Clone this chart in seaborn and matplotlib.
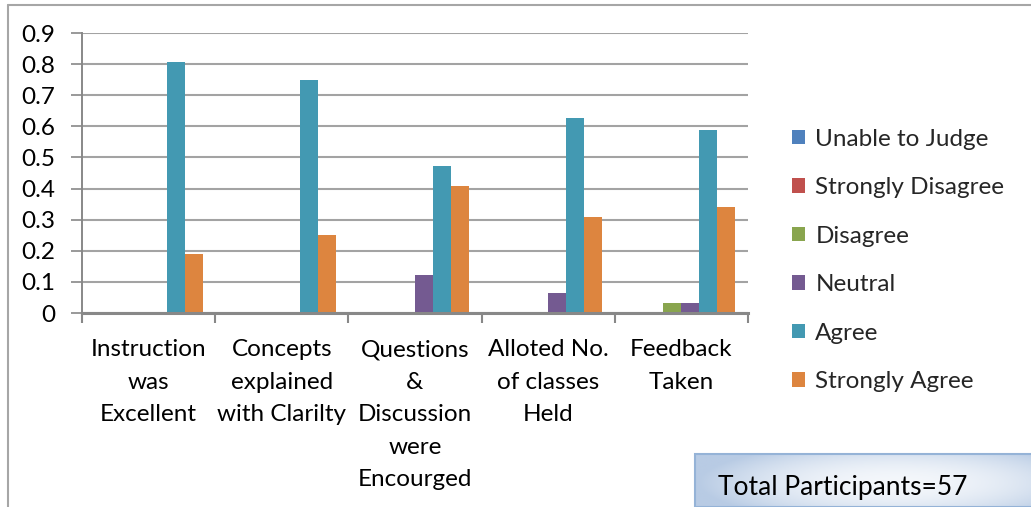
import numpy as np
import pandas as pd
import matplotlib
matplotlib.use("Agg")
import matplotlib.pyplot as plt
import seaborn as sns
from matplotlib.patches import Patch, Rectangle
from matplotlib.lines import Line2D

categories = ["Instruction\nwas\nExcellent", "Concepts\nexplained\nwith Clarilty",
              "Questions\n&\nDiscussion\nwere\nEncourged", "Alloted No.\nof classes\nHeld",
              "Feedback\nTaken"]
series = ["Unable to Judge", "Strongly Disagree", "Disagree", "Neutral", "Agree", "Strongly Agree"]
unable_to_judge = [0, 0, 0, 0, 0]
strongly_disagree = [0, 0, 0, 0, 0]
disagree = [0, 0, 0, 0, 0.033]
neutral = [0, 0, 0.123, 0.065, 0.033]
agree = [0.806, 0.748, 0.472, 0.627, 0.587]
strongly_agree = [0.19, 0.252, 0.407, 0.31, 0.342]
yticks = [0, 0.1, 0.2, 0.3, 0.4, 0.5, 0.6, 0.7, 0.8, 0.9]
ytick_labels = ["0", "0.1", "0.2", "0.3", "0.4", "0.5", "0.6", "0.7", "0.8", "0.9"]
note = "Total Participants=57"

colors = ["#4F81BD", "#C0504D", "#89A54E", "#745A91", "#4399B2", "#DD853F"]

rows = []
for s, vals in zip(series, [unable_to_judge, strongly_disagree, disagree, neutral, agree, strongly_agree]):
    for c, v in zip(categories, vals):
        rows.append({"category": c, "series": s, "value": v})
df = pd.DataFrame(rows)

sns.set_theme(style="white")
plt.rcParams["font.family"] = ["Lato", "DejaVu Sans"]

FS = 17.5
W, H = 1031, 507
fig = plt.figure(figsize=(W / 100, H / 100), dpi=100)
ax = fig.add_axes([82 / W, 1 - 313 / H, (748 - 82) / W, (313 - 33) / H])

sns.barplot(data=df, x="category", y="value", hue="series", order=categories,
            hue_order=series, palette=colors, width=0.81, linewidth=0,
            saturation=1, ax=ax, legend=False)

ax.set_xlim(-0.5, 4.5)
ax.set_ylim(0, 0.9)
ax.set_yticks(yticks)
ax.set_yticklabels(ytick_labels, fontsize=FS, color="#000000")
ax.yaxis.grid(True, color="#A3A3A3", linewidth=1.5)
ax.set_axisbelow(True)
ax.set_xlabel("")
ax.set_ylabel("")
ax.set_xticks(range(len(categories)))
ax.set_xticklabels(categories, fontsize=FS, linespacing=1.67, va="top", color="#000000")
ax.set_xticks(np.arange(-0.5, 5, 1), minor=True)
ax.tick_params(axis="x", which="major", length=0, pad=19)
ax.tick_params(axis="x", which="minor", length=7, width=1.5, color="#888888", direction="out", bottom=True)
ax.tick_params(axis="y", which="major", length=8, width=1.2, color="#888888", direction="out", left=True, pad=11)
for sp in ["top", "right"]:
    ax.spines[sp].set_visible(False)
ax.spines["left"].set_color("#888888")
ax.spines["left"].set_linewidth(1.4)
ax.spines["bottom"].set_color("#888888")
ax.spines["bottom"].set_linewidth(2.2)

handles = [Patch(facecolor=c, edgecolor="none") for c in colors]
fig.legend(handles, series, loc="center left", bbox_to_anchor=(792 / W, 1 - 260.5 / H),
           frameon=False, fontsize=FS, handlelength=0.54, handleheight=0.54,
           handletextpad=0.42, labelspacing=1.13, borderpad=0, borderaxespad=0)

# chart border
fig.add_artist(Line2D([8 / W, 8 / W], [0, 1 - 5 / H], color="#A6A6A6", lw=1.5))
fig.add_artist(Line2D([8 / W, 1], [1 - 5 / H, 1 - 5 / H], color="#A6A6A6", lw=1.5))

# note box with gradient
bx = fig.add_axes([695 / W, 0, (W - 695) / W, (H - 453) / H])
gx = np.linspace(0, 1, 200)
gy = np.linspace(0, 1, 40)
XX, YY = np.meshgrid(gx, gy)
t = np.clip(1 - ((XX - 0.6) ** 2 / 0.35 + (YY - 0.45) ** 2 / 0.6), 0, 1)
c0 = np.array([0xB8, 0xCB, 0xE4]) / 255
c1 = np.array([0xF4, 0xF7, 0xFB]) / 255
img = c0[None, None, :] * (1 - t[..., None]) + c1[None, None, :] * t[..., None]
bx.imshow(img, aspect="auto", extent=[0, 1, 0, 1], origin="lower")
bx.set_xlim(0, 1)
bx.set_ylim(0, 1)
bx.axis("off")
bx.add_patch(Rectangle((0, 0), 1.2, 0.985, fill=False, edgecolor="#95B3D7", lw=1.5, clip_on=False))
bx.text(23 / (W - 695), 0.36, note, fontsize=19, color="#000000", va="center", ha="left")

fig.savefig("out.png", dpi=100)
